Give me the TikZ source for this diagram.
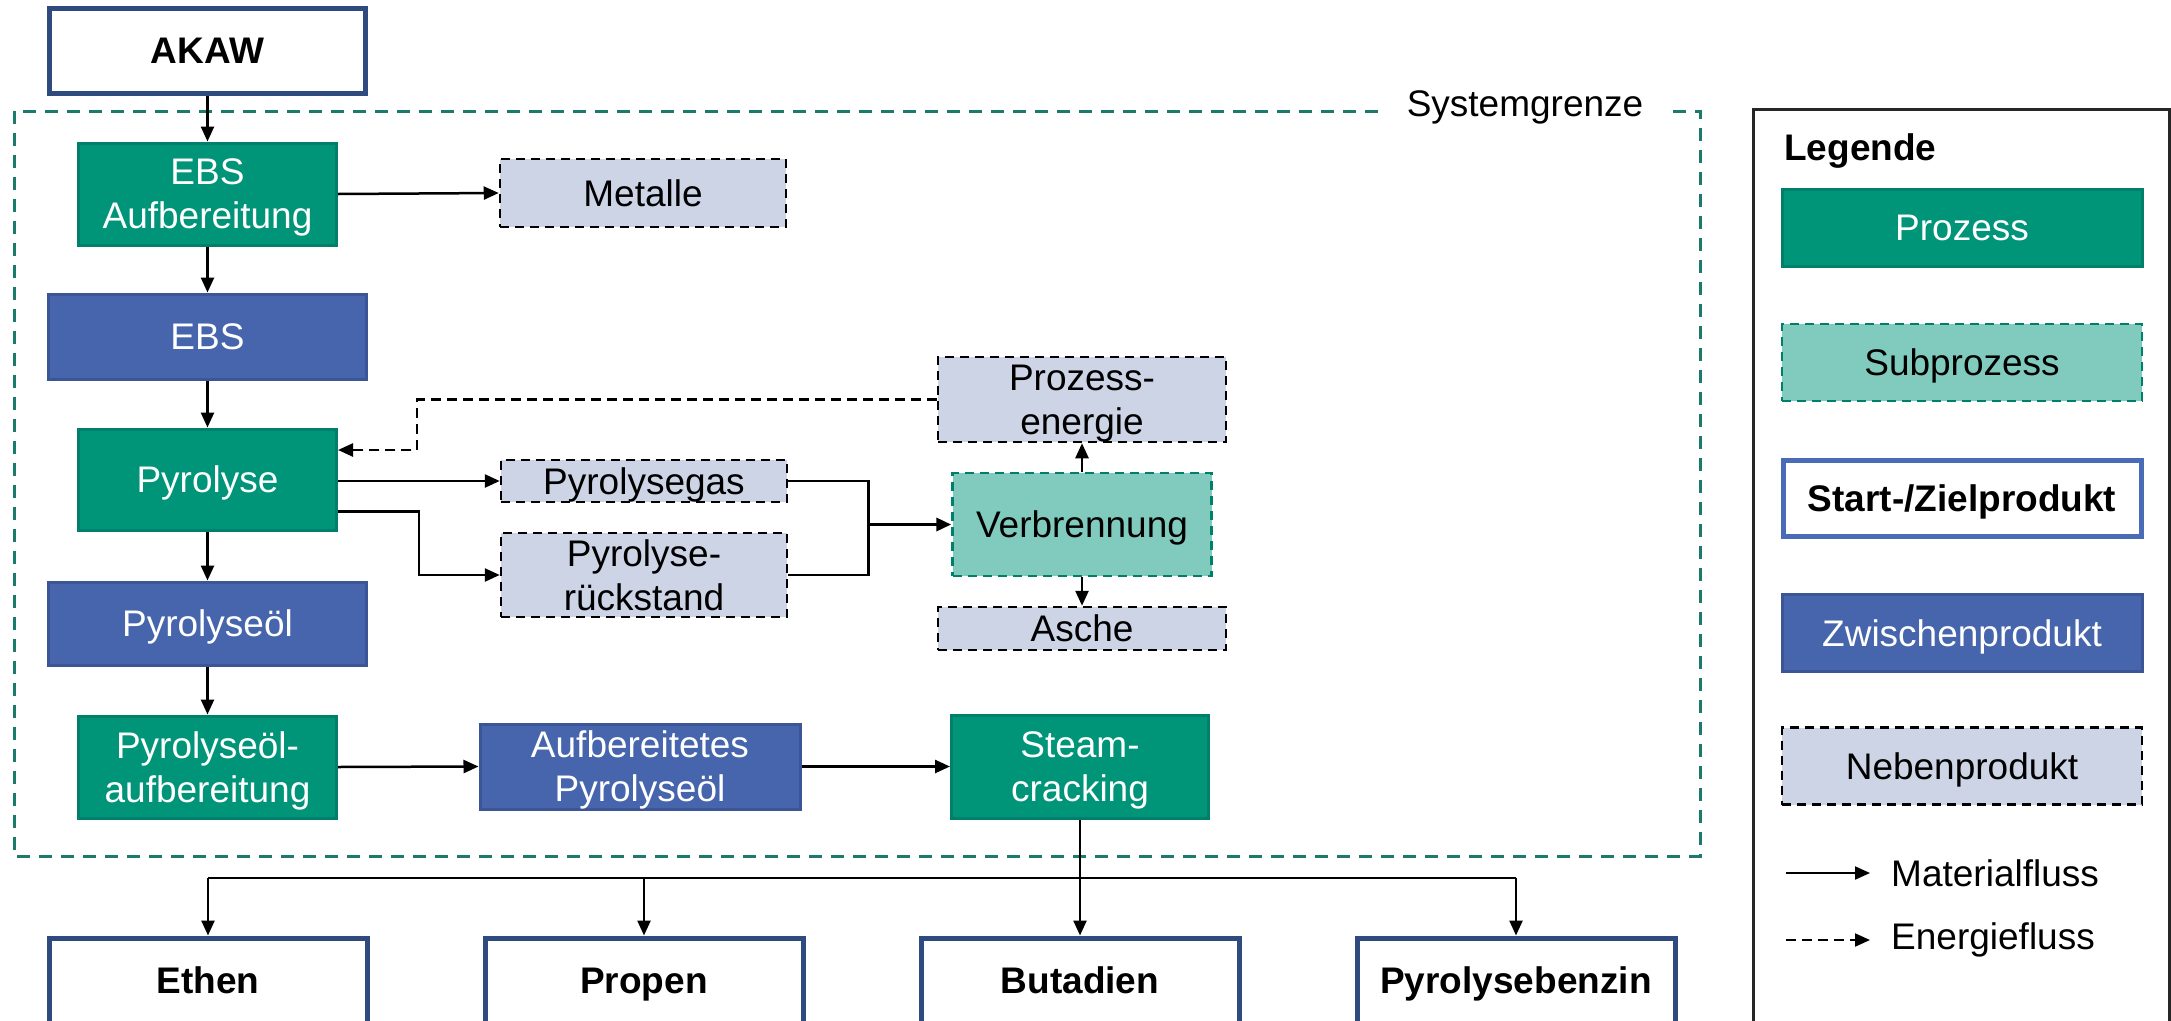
\documentclass[tikz,border=0pt]{standalone}
\usepackage{fontspec}
\setmainfont{Liberation Sans}
\usetikzlibrary{arrows.meta}
\definecolor{procgreen}{HTML}{009479}
\definecolor{procborder}{HTML}{00806A}
\definecolor{subfill}{HTML}{80CBBE}
\definecolor{subborder}{HTML}{00806A}
\definecolor{zwfill}{HTML}{4665AC}
\definecolor{zwborder}{HTML}{3B5596}
\definecolor{nebfill}{HTML}{CDD4E6}
\definecolor{sysline}{HTML}{1B7A6A}
\definecolor{szborder}{HTML}{2F4A7F}
\definecolor{szlegborder}{HTML}{4A6BB5}
\newcommand\dfont{\fontsize{37pt}{44pt}\selectfont}
\begin{document}
\begin{tikzpicture}[x=1pt,y=-1pt,
  box/.style={inner sep=0pt, align=center, font=\dfont, text depth=0pt},
  proc/.style={box, fill=procgreen, draw=procborder, line width=3pt, text=white},
  subp/.style={box, fill=subfill, draw=subborder, line width=2.5pt, dash pattern=on 9pt off 6pt},
  zw/.style={box, fill=zwfill, draw=zwborder, line width=3pt, text=white},
  neb/.style={box, fill=nebfill, draw=black, line width=2.5pt, dash pattern=on 9pt off 6pt},
  sz/.style={box, fill=white, draw=szborder, line width=5pt, font=\dfont\bfseries},
  arr/.style={line width=2.5pt, -{Triangle[length=15pt,width=13pt]}},
  earr/.style={arr, dash pattern=on 10pt off 6pt},
  plain/.style={line width=2.5pt}]
\useasboundingbox (0,0) rectangle (2171,1020);
\clip (0,0) rectangle (2171,1020);

% system boundary
\draw[sysline, line width=3pt, dash pattern=on 13pt off 9pt] (14,111) rectangle (1700,856);
\node[fill=white, inner xsep=26pt, inner ysep=4pt, font=\dfont] (sysl) at (1525,107) {Systemgrenze};

% nodes
\node[sz, minimum width=316pt, minimum height=85pt] (akaw) at (207.5,50.5) {AKAW};
\node[proc, minimum width=258pt, minimum height=102pt] (ebsa) at (207.5,194) {EBS\\Aufbereitung};
\node[neb, minimum width=286pt, minimum height=68pt] (met) at (643,193) {Metalle};
\node[zw, minimum width=318pt, minimum height=85pt] (ebs) at (207.5,336.5) {EBS};
\node[proc, minimum width=258pt, minimum height=101pt] (pyro) at (207.5,479.5) {Pyrolyse};
\node[zw, minimum width=318pt, minimum height=83pt] (poel) at (207.5,623.5) {Pyrolyseöl};
\node[proc, minimum width=258pt, minimum height=102pt] (poa) at (207.5,767) {Pyrolyseöl-\\aufbereitung};
\node[zw, minimum width=320pt, minimum height=85pt] (apo) at (640,766.5) {Aufbereitetes\\Pyrolyseöl};
\node[proc, minimum width=257pt, minimum height=103pt] (sc) at (1080,766.5) {Steam-\\cracking};
\node[neb, minimum width=288pt, minimum height=85pt] (pe) at (1082,399.5) {Prozess-\\energie};
\node[neb, minimum width=286pt, minimum height=42pt] (pgas) at (644,481) {Pyrolysegas};
\node[neb, minimum width=286pt, minimum height=84pt] (prk) at (644,575) {Pyrolyse-\\rückstand};
\node[subp, minimum width=259pt, minimum height=103pt] (verb) at (1082,524.5) {Verbrennung};
\node[neb, minimum width=288pt, minimum height=43pt] (asche) at (1082,628.5) {Asche};
\node[sz, minimum width=318pt, minimum height=85pt] (ethen) at (208,980.5) {Ethen};
\node[sz, minimum width=318pt, minimum height=85pt] (propen) at (644,980.5) {Propen};
\node[sz, minimum width=318pt, minimum height=85pt] (but) at (1080,980.5) {Butadien};
\node[sz, minimum width=318pt, minimum height=85pt] (pyb) at (1516,980.5) {Pyrolysebenzin};

% connectors
\draw[arr] (akaw.south) -- (ebsa.north);
\draw[arr] (ebsa.east) -- (met.west);
\draw[arr] (ebsa.south) -- (ebs.north);
\draw[arr] (ebs.south) -- (pyro.north);
\draw[arr] (pyro.south) -- (poel.north);
\draw[arr] (poel.south) -- (poa.north);
\draw[arr] (poa.east) -- (apo.west);
\draw[arr] (apo.east) -- (sc.west);
\draw[arr] (pyro.east |- pgas.west) -- (pgas.west);
\draw[arr] ([yshift=-32pt]pyro.east) -- ++(81pt,0) |- (prk.west);
\path (verb.west) ++(-83pt,0) coordinate (jv);
\draw[plain] (pgas.east) -| (jv);
\draw[plain] (prk.east) -| (jv);
\draw[arr, line width=3.5pt] (jv) -- (verb.west);
\draw[arr] (verb.north) -- (pe.south);
\draw[arr] (verb.south) -- (asche.north);
\coordinate (ecorner) at (417,450);
\draw[earr] (pe.west) -| (ecorner) -- (pyro.east |- ecorner);
\coordinate (br) at (1080,878);
\draw[arr] (sc.south) -- (but.north);
\draw[plain] (ethen.north |- br) -- (pyb.north |- br);
\draw[arr] (ethen.north |- br) -- (ethen.north);
\draw[arr] (propen.north |- br) -- (propen.north);
\draw[arr] (pyb.north |- br) -- (pyb.north);

% legend
\draw[line width=3pt, draw=black!85] (1753,109) rectangle (2169,1060);
\node[anchor=west, inner sep=0pt, font=\dfont\bfseries] (leg) at (1784,151) {Legende};
\node[proc, minimum width=360pt, minimum height=77pt] (lproc) at (1962,228) {Prozess};
\node[subp, minimum width=360pt, minimum height=77pt] (lsub) at (1962,362.5) {Subprozess};
\node[sz, draw=szlegborder, minimum width=358pt, minimum height=76pt] (lsz) at (1962,498.5) {Start-/Zielprodukt};
\node[zw, minimum width=360pt, minimum height=77pt] (lzw) at (1962,633) {Zwischenprodukt};
\node[neb, minimum width=360pt, minimum height=77pt] (lneb) at (1962,766) {Nebenprodukt};
\coordinate (lm1) at (1786,873);
\coordinate (lm2) at (1870,873);
\draw[arr, line width=2pt] (lm1) -- (lm2);
\node[anchor=west, inner sep=0pt, font=\dfont] (lmt) at (1891,873) {Materialfluss};
\coordinate (le1) at (1786,940);
\coordinate (le2) at (1870,940);
\draw[earr, line width=2pt] (le1) -- (le2);
\node[anchor=west, inner sep=0pt, font=\dfont] (let) at (1891,940) {Energiefluss};
\end{tikzpicture}
\end{document}
